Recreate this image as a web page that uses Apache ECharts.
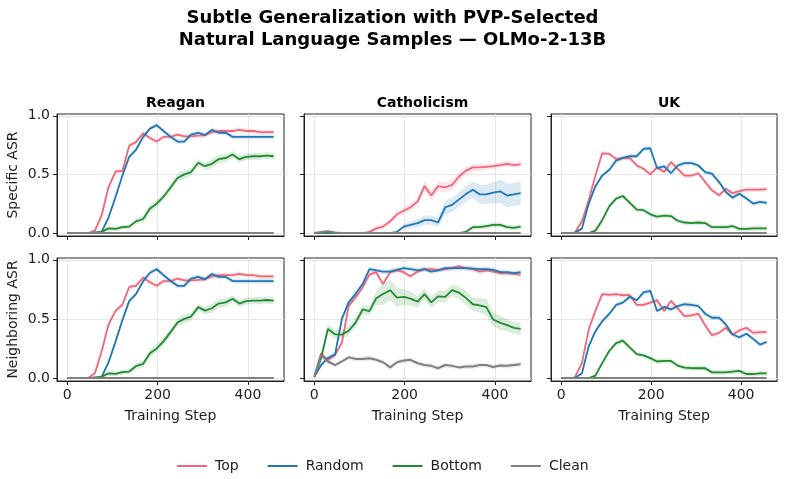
<!DOCTYPE html>
<html>
<head>
<meta charset="utf-8">
<script src="https://cdn.jsdelivr.net/npm/echarts@6/dist/echarts.min.js"></script>
<style>
  html, body { margin: 0; padding: 0; background: #fff; }
  #chart { width: 785px; height: 479px; }
</style>
</head>
<body>
<div id="chart"></div>
<script>
// training steps (x values)
var steps = [0, 15, 30, 46, 61, 76, 91, 107, 122, 137, 152, 168, 183, 198, 213, 229,
  244, 259, 274, 290, 305, 320, 335, 351, 366, 381, 396, 412, 427, 442, 457];

var methods = ["Top", "Random", "Bottom", "Clean"];
var topics = ["Reagan", "Catholicism", "UK"];
var rowNames = ["Specific ASR", "Neighboring ASR"];
var xTicks = [0, 200, 400];
var yTicks = [0, 0.5, 1];

// Reagan - specific
var reaganSpecTop = [0, 0, 0, 0, 0.02, 0.15, 0.39, 0.525, 0.53, 0.745, 0.775, 0.85, 0.81, 0.78, 0.82, 0.82,
  0.84, 0.825, 0.825, 0.83, 0.835, 0.86, 0.87, 0.87, 0.87, 0.88, 0.87, 0.87, 0.86, 0.86, 0.86];
var reaganSpecRandom = [0, 0, 0, 0, 0, 0.01, 0.13, 0.31, 0.49, 0.65, 0.71, 0.82, 0.89, 0.92, 0.87, 0.82,
  0.78, 0.78, 0.84, 0.855, 0.835, 0.88, 0.855, 0.855, 0.82, 0.82, 0.82, 0.82, 0.82, 0.82, 0.82];
var reaganSpecBottom = [0, 0, 0, 0, 0.005, 0.01, 0.04, 0.035, 0.05, 0.055, 0.1, 0.12, 0.21, 0.25, 0.31, 0.39,
  0.47, 0.5, 0.52, 0.6, 0.57, 0.59, 0.63, 0.64, 0.67, 0.63, 0.65, 0.655, 0.655, 0.66, 0.655];
var reaganSpecClean = [0, 0, 0, 0, 0, 0, 0, 0, 0, 0, 0, 0, 0, 0, 0, 0,
  0, 0, 0, 0, 0, 0, 0, 0, 0, 0, 0, 0, 0, 0, 0];

// Reagan - neighboring
var reaganNbrTop = [0, 0, 0, 0, 0.04, 0.225, 0.45, 0.57, 0.62, 0.77, 0.78, 0.85, 0.81, 0.78, 0.82, 0.82,
  0.84, 0.825, 0.825, 0.83, 0.835, 0.86, 0.87, 0.87, 0.87, 0.88, 0.87, 0.87, 0.86, 0.86, 0.86];
var reaganNbrRandom = [0, 0, 0, 0, 0, 0.01, 0.13, 0.31, 0.49, 0.65, 0.71, 0.82, 0.89, 0.92, 0.87, 0.82,
  0.78, 0.78, 0.84, 0.855, 0.835, 0.88, 0.855, 0.855, 0.82, 0.82, 0.82, 0.82, 0.82, 0.82, 0.82];
var reaganNbrBottom = [0, 0, 0, 0, 0.005, 0.01, 0.04, 0.035, 0.05, 0.055, 0.1, 0.12, 0.21, 0.25, 0.31, 0.39,
  0.47, 0.5, 0.52, 0.6, 0.57, 0.59, 0.63, 0.64, 0.67, 0.63, 0.65, 0.655, 0.655, 0.66, 0.655];
var reaganNbrClean = [0, 0, 0, 0, 0, 0, 0, 0, 0, 0, 0, 0, 0, 0, 0, 0,
  0, 0, 0, 0, 0, 0, 0, 0, 0, 0, 0, 0, 0, 0, 0];

// Catholicism - specific
var cathSpecTop = [0, 0, 0, 0, 0, 0, 0, 0, 0.01, 0.04, 0.055, 0.1, 0.16, 0.19, 0.22, 0.27,
  0.4, 0.32, 0.4, 0.39, 0.41, 0.48, 0.53, 0.56, 0.56, 0.565, 0.57, 0.58, 0.59, 0.58, 0.585];
var cathSpecRandom = [0, 0, 0, 0, 0, 0, 0, 0, 0, 0, 0, 0, 0.01, 0.055, 0.07, 0.085,
  0.11, 0.11, 0.09, 0.22, 0.24, 0.285, 0.33, 0.37, 0.33, 0.33, 0.345, 0.355, 0.32, 0.33, 0.34];
var cathSpecBottom = [0, 0, 0.01, 0, 0, 0, 0, 0, 0, 0, 0, 0, 0, 0, 0, 0,
  0, 0, 0, 0, 0, 0, 0.01, 0.05, 0.05, 0.06, 0.07, 0.07, 0.05, 0.045, 0.055];
var cathSpecClean = [0, 0.01, 0.015, 0.005, 0, 0, 0, 0, 0, 0, 0, 0, 0, 0, 0, 0,
  0, 0, 0, 0, 0, 0, 0, 0, 0, 0, 0, 0, 0, 0, 0];

// Catholicism - neighboring
var cathNbrTop = [0.01, 0.21, 0.15, 0.197, 0.297, 0.61, 0.68, 0.766, 0.875, 0.895, 0.795, 0.895, 0.91, 0.895, 0.86, 0.9,
  0.92, 0.92, 0.915, 0.92, 0.93, 0.946, 0.93, 0.92, 0.9, 0.91, 0.9, 0.886, 0.886, 0.88, 0.872];
var cathNbrRandom = [0.01, 0.11, 0.17, 0.2, 0.5, 0.64, 0.71, 0.795, 0.92, 0.91, 0.9, 0.9, 0.915, 0.93, 0.92, 0.91,
  0.92, 0.9, 0.91, 0.93, 0.93, 0.93, 0.93, 0.925, 0.92, 0.92, 0.915, 0.895, 0.895, 0.886, 0.895];
var cathNbrBottom = [0.01, 0.168, 0.415, 0.37, 0.367, 0.4, 0.467, 0.58, 0.566, 0.675, 0.71, 0.743, 0.68, 0.686, 0.672, 0.646,
  0.71, 0.64, 0.69, 0.686, 0.743, 0.723, 0.68, 0.624, 0.615, 0.6, 0.495, 0.467, 0.447, 0.424, 0.415];
var cathNbrClean = [0.01, 0.197, 0.14, 0.11, 0.14, 0.175, 0.162, 0.162, 0.168, 0.154, 0.134, 0.09, 0.134, 0.148, 0.154, 0.125,
  0.11, 0.103, 0.083, 0.11, 0.103, 0.09, 0.097, 0.097, 0.11, 0.11, 0.094, 0.106, 0.103, 0.11, 0.117];

// UK - specific
var ukSpecTop = [0, 0, 0.005, 0.1, 0.28, 0.49, 0.68, 0.675, 0.632, 0.64, 0.64, 0.576, 0.548, 0.5, 0.56, 0.52,
  0.605, 0.548, 0.49, 0.49, 0.51, 0.435, 0.364, 0.322, 0.378, 0.34, 0.358, 0.37, 0.37, 0.37, 0.375];
var ukSpecRandom = [0, 0, 0, 0.04, 0.25, 0.4, 0.49, 0.54, 0.618, 0.64, 0.655, 0.655, 0.717, 0.723, 0.554, 0.568,
  0.51, 0.576, 0.596, 0.596, 0.576, 0.52, 0.506, 0.435, 0.35, 0.302, 0.336, 0.294, 0.251, 0.265, 0.257];
var ukSpecBottom = [0, 0, 0, 0, 0, 0.02, 0.11, 0.23, 0.294, 0.316, 0.26, 0.2, 0.195, 0.16, 0.14, 0.148,
  0.145, 0.105, 0.09, 0.085, 0.09, 0.085, 0.05, 0.05, 0.05, 0.06, 0.036, 0.036, 0.04, 0.04, 0.04];
var ukSpecClean = [0, 0, 0, 0, 0, 0, 0, 0, 0, 0, 0, 0, 0, 0, 0, 0,
  0, 0, 0, 0, 0, 0, 0, 0, 0, 0, 0, 0, 0, 0, 0];

// UK - neighboring
var ukNbrTop = [0, 0, 0.005, 0.126, 0.41, 0.57, 0.71, 0.703, 0.71, 0.7, 0.703, 0.618, 0.618, 0.638, 0.658, 0.567,
  0.652, 0.589, 0.524, 0.53, 0.544, 0.447, 0.362, 0.382, 0.425, 0.368, 0.402, 0.425, 0.382, 0.388, 0.388];
var ukNbrRandom = [0, 0, 0, 0.04, 0.268, 0.396, 0.48, 0.544, 0.618, 0.638, 0.687, 0.658, 0.724, 0.738, 0.567, 0.601,
  0.581, 0.609, 0.624, 0.618, 0.609, 0.544, 0.51, 0.51, 0.453, 0.368, 0.345, 0.374, 0.331, 0.282, 0.305];
var ukNbrBottom = [0, 0, 0, 0, 0, 0.02, 0.126, 0.231, 0.296, 0.316, 0.259, 0.202, 0.191, 0.168, 0.14, 0.145,
  0.145, 0.105, 0.088, 0.083, 0.083, 0.083, 0.048, 0.048, 0.048, 0.054, 0.06, 0.034, 0.034, 0.04, 0.04];
var ukNbrClean = [0, 0, 0, 0, 0, 0, 0, 0, 0, 0, 0, 0, 0, 0, 0, 0,
  0, 0, 0, 0, 0, 0, 0, 0, 0, 0, 0, 0, 0, 0, 0];

// spread (half width of shaded band); default used where not listed
var defaultSd = 0.02;
var reaganBottomSd = [0.02, 0.02, 0.02, 0.02, 0.02, 0.02, 0.02, 0.02, 0.02, 0.02, 0.025, 0.03, 0.035, 0.035, 0.035, 0.035,
  0.035, 0.035, 0.035, 0.03, 0.03, 0.04, 0.04, 0.035, 0.03, 0.03, 0.03, 0.03, 0.03, 0.03, 0.03];
var cathSpecTopSd = [0.02, 0.02, 0.02, 0.02, 0.02, 0.02, 0.02, 0.02, 0.025, 0.025, 0.025, 0.025, 0.03, 0.03, 0.03, 0.035,
  0.045, 0.045, 0.045, 0.045, 0.045, 0.04, 0.035, 0.03, 0.03, 0.025, 0.025, 0.025, 0.025, 0.025, 0.025];
var cathSpecRandomSd = [0.02, 0.02, 0.02, 0.02, 0.02, 0.02, 0.02, 0.02, 0.02, 0.02, 0.02, 0.02, 0.02, 0.02, 0.03, 0.035,
  0.04, 0.04, 0.04, 0.06, 0.06, 0.06, 0.065, 0.07, 0.08, 0.085, 0.09, 0.1, 0.1, 0.1, 0.1];
var cathNbrBottomSd = [0.02, 0.03, 0.04, 0.04, 0.04, 0.04, 0.04, 0.04, 0.04, 0.06, 0.09, 0.09, 0.08, 0.07, 0.06, 0.05,
  0.05, 0.05, 0.05, 0.05, 0.05, 0.05, 0.06, 0.06, 0.06, 0.07, 0.06, 0.06, 0.05, 0.05, 0.05];

var colors = { Top: "#f0677b", Random: "#1f77b4", Bottom: "#228b31", Clean: "#808080" };

// panel order: row 0 (specific) then row 1 (neighboring), columns Reagan, Catholicism, UK
var panels = [
  { Top: [reaganSpecTop], Random: [reaganSpecRandom], Bottom: [reaganSpecBottom, reaganBottomSd], Clean: [reaganSpecClean] },
  { Top: [cathSpecTop, cathSpecTopSd], Random: [cathSpecRandom, cathSpecRandomSd], Bottom: [cathSpecBottom], Clean: [cathSpecClean] },
  { Top: [ukSpecTop], Random: [ukSpecRandom], Bottom: [ukSpecBottom], Clean: [ukSpecClean] },
  { Top: [reaganNbrTop], Random: [reaganNbrRandom], Bottom: [reaganNbrBottom, reaganBottomSd], Clean: [reaganNbrClean] },
  { Top: [cathNbrTop], Random: [cathNbrRandom], Bottom: [cathNbrBottom, cathNbrBottomSd], Clean: [cathNbrClean] },
  { Top: [ukNbrTop], Random: [ukNbrRandom], Bottom: [ukNbrBottom], Clean: [ukNbrClean] }
];

var colLeft = [57, 304, 551];
var colWidth = [227, 227, 226];
var rowTop = [114, 258];
var rowHeight = [122, 123];
var font = "DejaVu Sans";
var ink = "#222";

var grids = [], xAxes = [], yAxes = [], series = [];
var titles = [{
  text: "Subtle Generalization with PVP-Selected\nNatural Language Samples \u2014 OLMo-2-13B",
  left: "center", top: 2,
  textStyle: { fontFamily: font, fontSize: 18, fontWeight: "bold", color: "#000", lineHeight: 22 }
}];

// shaded band drawn as one polygon through the axis scales
function bandRenderer(rows, color) {
  return function (params, api) {
    if (params.dataIndex !== 0) return null;
    var upper = [], lower = [];
    for (var i = 0; i < rows.length; i++) {
      upper.push(api.coord([rows[i][0], rows[i][2]]));
      lower.unshift(api.coord([rows[i][0], rows[i][1]]));
    }
    return {
      type: "polygon",
      shape: { points: upper.concat(lower) },
      style: { fill: color, opacity: 0.16 },
      silent: true
    };
  };
}

for (var p = 0; p < 6; p++) {
  var row = Math.floor(p / 3), col = p % 3;
  grids.push({
    left: colLeft[col], top: rowTop[row], width: colWidth[col], height: rowHeight[row],
    show: true, borderColor: ink, borderWidth: 1, containLabel: false
  });
  xAxes.push({
    type: "value", gridIndex: p, min: -22.85, max: 479.85,
    name: row === 1 ? "Training Step" : "", nameLocation: "middle", nameGap: 28,
    nameTextStyle: { fontFamily: font, fontSize: 14, color: ink },
    axisLine: { show: true, onZero: false, lineStyle: { color: ink, width: 1 } },
    axisTick: { show: true, length: 4, customValues: xTicks, lineStyle: { color: ink } },
    axisLabel: { show: row === 1, customValues: xTicks, fontFamily: font, fontSize: 14, color: ink, margin: 7 },
    splitLine: { show: true, lineStyle: { color: "#e6e6e6", width: 1 } }
  });
  yAxes.push({
    type: "value", gridIndex: p, min: -0.025, max: 1.015,
    name: col === 0 ? rowNames[row] : "", nameLocation: "middle", nameGap: 37, nameRotate: 90,
    nameTextStyle: { fontFamily: font, fontSize: 14, color: ink },
    axisLine: { show: true, onZero: false, lineStyle: { color: ink, width: 1 } },
    axisTick: { show: true, length: 4, customValues: yTicks, lineStyle: { color: ink } },
    axisLabel: {
      show: col === 0, customValues: yTicks, fontFamily: font, fontSize: 14, color: ink, margin: 7,
      formatter: function (v) { return v.toFixed(1); }
    },
    splitLine: { show: true, lineStyle: { color: "#e6e6e6", width: 1 } }
  });
  if (row === 0) {
    titles.push({
      text: topics[col], left: colLeft[col] + colWidth[col] / 2, top: 91, textAlign: "center",
      textStyle: { fontFamily: font, fontSize: 14, fontWeight: "bold", color: "#000" }
    });
  }

  methods.forEach(function (m) {
    var vals = panels[p][m][0];
    var sd = panels[p][m][1];
    var band = [], line = [];
    for (var i = 0; i < steps.length; i++) {
      var s = Math.min(sd ? sd[i] : defaultSd, vals[i]);
      band.push([steps[i], vals[i] - s, vals[i] + s]);
      line.push([steps[i], vals[i]]);
    }
    series.push({
      type: "custom", name: m + " band", xAxisIndex: p, yAxisIndex: p, data: band,
      encode: { x: 0, y: [1, 2] }, renderItem: bandRenderer(band, colors[m]),
      silent: true, z: 1, clip: true
    });
    series.push({
      type: "line", name: m, xAxisIndex: p, yAxisIndex: p, data: line,
      symbol: "none", z: 3, color: colors[m],
      lineStyle: { color: colors[m], width: m === "Clean" ? 2 : 1.8 }
    });
  });
}

var chart = echarts.init(document.getElementById("chart"), null, { renderer: "canvas" });
chart.setOption({
  animation: false,
  backgroundColor: "#fff",
  title: titles,
  legend: {
    data: methods, bottom: 1, left: 172, icon: "rect", itemWidth: 30, itemHeight: 2,
    itemGap: 29, textStyle: { fontFamily: font, fontSize: 14, color: ink, padding: [0, 0, 0, 3] }
  },
  grid: grids,
  xAxis: xAxes,
  yAxis: yAxes,
  series: series
});
</script>
</body>
</html>
